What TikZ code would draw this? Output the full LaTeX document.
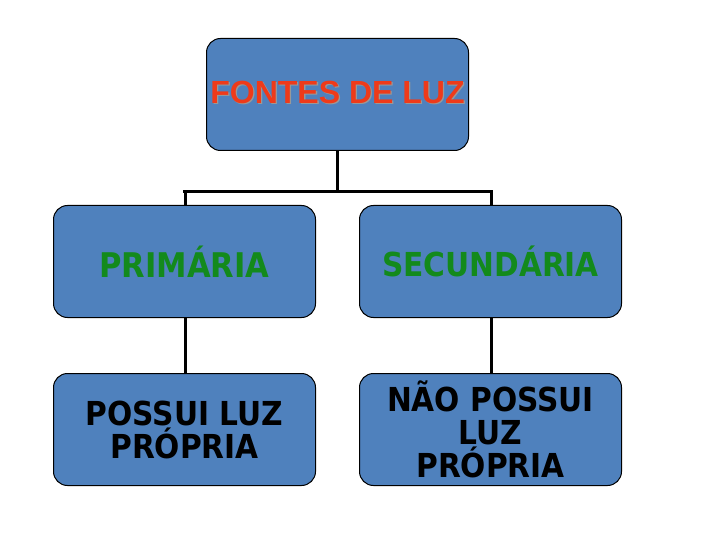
\documentclass[tikz,border=0pt]{standalone}
\usepackage{fontspec}
\setmainfont{DejaVu Sans}
\newfontfamily\arialb{Liberation Sans}[BoldFont={* Bold}]
\newfontfamily\tahb{DejaVu Sans Condensed Bold}
\definecolor{boxblue}{HTML}{4F81BD}
\definecolor{titlered}{HTML}{EE3A1A}
\definecolor{txtgreen}{HTML}{138A1C}
\begin{document}
\begin{tikzpicture}[x=1pt,y=-1pt,
  box/.style={draw=black,line width=1pt,fill=boxblue,rounded corners=14pt,minimum width=262pt,minimum height=112pt,anchor=north west,align=center,inner sep=0pt},
  conn/.style={line width=3pt,black}]
\useasboundingbox (0,0) rectangle (720,540);
\node[box] (top) at (206,38) {};
\node[font=\arialb\bfseries\fontsize{32}{34}\selectfont] at ([yshift=1.3pt,xshift=1.3pt]top.center) {\textcolor{gray!80}{FONTES DE LUZ}};
\node[titlered,font=\arialb\bfseries\fontsize{32}{34}\selectfont] (toptxt) at ([yshift=2pt]top.center) {FONTES DE LUZ};
\node[box,text=txtgreen,font=\tahb\fontsize{34}{36}\selectfont] (prim) at (53,205) {PRIMÁRIA};
\node[box,text=txtgreen,font=\tahb\fontsize{33}{36}\selectfont] (sec) at (359,205) {SECUNDÁRIA};
\node[box,text=black,font=\tahb\fontsize{33}{33}\selectfont] (possui) at (53,373) {POSSUI LUZ\\PRÓPRIA};
\node[box,text=black,font=\tahb\fontsize{33}{33}\selectfont] (nao) at (359,373) {NÃO POSSUI\\LUZ\\PRÓPRIA};
\coordinate (hl) at (183,192);
\coordinate (hr) at (493,192);
\draw[conn] (top.south) -- (top.south |- hl);
\draw[conn] (hl) -- (hr);
\draw[conn] (185,192) -- (185,205);
\draw[conn] (491,192) -- (491,205);
\draw[conn] (prim.south -| 185,0) -- (possui.north -| 185,0);
\draw[conn] (sec.south -| 491,0) -- (nao.north -| 491,0);
\end{tikzpicture}
\end{document}
